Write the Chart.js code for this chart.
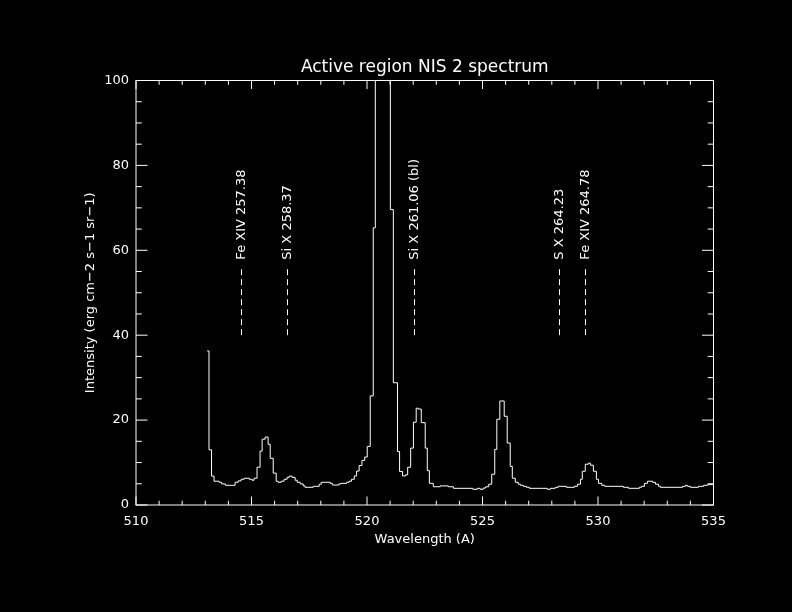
<!DOCTYPE html>
<html>
<head>
<meta charset="utf-8">
<script src="https://cdn.jsdelivr.net/npm/chart.js@4.4.1/dist/chart.umd.min.js"></script>
<style>
  html, body { margin: 0; padding: 0; background: #000; }
  #wrap { width: 792px; height: 612px; }
</style>
</head>
<body>
<div id="wrap"><canvas id="c" width="792" height="612"></canvas></div>
<script>
// ---- Data (wavelength in A, intensity) ----
// Each wavelength is the left edge of a histogram step; the value holds until the next edge.
const wavelengths = [
  513.08, 513.16, 513.27, 513.38, 513.60, 513.71, 513.87, 514.29, 514.42, 514.55,
  514.68, 514.90, 515.03, 515.11, 515.24, 515.37, 515.46, 515.59, 515.72, 515.81,
  515.94, 516.07, 516.15, 516.28, 516.41, 516.54, 516.63, 516.76, 516.89, 516.98,
  517.11, 517.24, 517.32, 517.67, 517.93, 518.02, 518.41, 518.50, 518.78, 518.87,
  519.12, 519.22, 519.33, 519.45, 519.55, 519.66, 519.78, 519.90, 520.01, 520.14,
  520.27, 520.36, 520.49, 520.62, 520.75, 520.88, 521.01, 521.14, 521.32, 521.41,
  521.54, 521.67, 521.76, 521.89, 522.01, 522.13, 522.22, 522.35, 522.52, 522.61,
  522.70, 522.87, 523.17, 523.52, 523.74, 524.58, 524.77, 524.90, 525.03, 525.14,
  525.27, 525.40, 525.53, 525.62, 525.75, 525.94, 526.07, 526.20, 526.29, 526.42,
  526.55, 526.64, 526.77, 526.90, 527.03, 527.81, 527.94, 528.15, 528.28, 528.63,
  528.98, 529.11, 529.24, 529.32, 529.45, 529.58, 529.67, 529.80, 529.93, 530.02,
  530.16, 530.29, 531.10, 531.32, 531.79, 531.88, 532.01, 532.14, 532.36, 532.49,
  532.62, 532.70, 533.66, 533.79, 533.87, 534.00, 534.35, 534.57, 534.74, 535.00
];
const intensities = [
  36.3, 13.0, 6.8, 5.6, 5.35, 4.96, 4.64, 5.35, 5.67, 6.06,
  6.3, 6.06, 5.83, 6.3, 8.9, 12.7, 15.5, 16.0, 14.3, 11.0,
  7.5, 5.6, 5.35, 5.6, 6.06, 6.5, 6.8, 6.5, 5.83, 5.35,
  4.96, 4.5, 4.17, 4.4, 4.9, 5.35, 5.1, 4.7, 4.96, 5.1,
  5.35, 5.6, 6.06, 6.85, 8.0, 9.3, 10.5, 11.3, 13.8, 25.7,
  65.3, 160, 260, 320, 250, 150, 69.6, 28.8, 12.6, 7.9,
  6.85, 7.1, 8.9, 13.4, 19.5, 22.8, 22.6, 19.4, 13.4, 8.1,
  5.1, 4.3, 4.5, 4.3, 3.93, 3.7, 3.93, 3.7, 4.0, 4.3,
  4.9, 7.25, 13.1, 20.2, 24.5, 20.9, 14.6, 9.1, 6.3, 5.35,
  4.9, 4.64, 4.4, 4.17, 3.93, 3.7, 3.93, 4.17, 4.4, 4.17,
  4.4, 4.9, 6.06, 7.95, 9.6, 9.85, 9.37, 7.95, 6.06, 5.1,
  4.64, 4.4, 4.17, 3.93, 4.17, 4.4, 5.1, 5.6, 5.35, 4.9,
  4.4, 4.17, 4.4, 4.64, 4.4, 4.17, 4.4, 4.64, 4.8, 4.8
];

// Line identifications (label text, marker wavelength on the plot axis)
const lineLabels = ['Fe XIV 257.38', 'Si X 258.37', 'Si X 261.06 (bl)', 'S X 264.23', 'Fe XIV 264.78'];
const lineWaves  = [514.567, 516.558, 522.056, 528.333, 529.459];
const markerLow  = 40;   // bottom of dashed marker (intensity units)
const markerHigh = 56;   // top of dashed marker
const labelBase  = 57.8; // where the rotated label starts

const xTicks = [510, 515, 520, 525, 530, 535];
const yTicks = [0, 20, 40, 60, 80, 100];

const titleText = 'Active region NIS 2 spectrum';
const xTitle = 'Wavelength (A)';
const yTitle = 'Intensity (erg cm\u22122 s\u22121 sr\u22121)';

// ---- build datasets ----
const spectrum = wavelengths.map((w, i) => ({ x: w, y: intensities[i] }));
const markerSets = lineWaves.map(w => ({
  data: [{ x: w, y: markerLow }, { x: w, y: markerHigh }],
  borderColor: '#fff', borderWidth: 1, borderDash: [6, 4],
  pointRadius: 0, stepped: false, tension: 0
}));

const FONT = "'DejaVu Sans', sans-serif";

const bgPlugin = {
  id: 'bg',
  beforeDraw(chart) {
    const ctx = chart.ctx;
    ctx.save();
    ctx.fillStyle = '#000';
    ctx.fillRect(0, 0, chart.width, chart.height);
    ctx.restore();
  }
};

const idlAxes = {
  id: 'idlAxes',
  afterDraw(chart) {
    const { ctx, chartArea: a, scales: { x, y } } = chart;
    ctx.save();
    ctx.strokeStyle = '#fff';
    ctx.lineWidth = 1;
    ctx.setLineDash([]);
    ctx.strokeRect(a.left, a.top, a.right - a.left, a.bottom - a.top);
    const xMaj = 8.5, xMin = 4.3, yMaj = 11.5, yMin = 5.8;
    ctx.beginPath();
    for (let v = xTicks[0]; v <= xTicks[xTicks.length - 1] + 1e-9; v += 1) {
      const px = x.getPixelForValue(v);
      const len = xTicks.includes(v) ? xMaj : xMin;
      ctx.moveTo(px, a.bottom); ctx.lineTo(px, a.bottom - len);
      ctx.moveTo(px, a.top); ctx.lineTo(px, a.top + len);
    }
    for (let v = yTicks[0]; v <= yTicks[yTicks.length - 1] + 1e-9; v += 5) {
      const py = y.getPixelForValue(v);
      const len = yTicks.includes(v) ? yMaj : yMin;
      ctx.moveTo(a.left, py); ctx.lineTo(a.left + len, py);
      ctx.moveTo(a.right, py); ctx.lineTo(a.right - len, py);
    }
    ctx.stroke();

    ctx.fillStyle = '#fff';
    // title, centred over the plot box
    ctx.font = '17px ' + FONT;
    ctx.textAlign = 'center';
    ctx.textBaseline = 'middle';
    ctx.fillText(titleText, (a.left + a.right) / 2, a.top - 13);

    // rotated line identification labels
    ctx.font = '13px ' + FONT;
    ctx.textAlign = 'left';
    ctx.textBaseline = 'middle';
    lineLabels.forEach((t, i) => {
      const px = x.getPixelForValue(lineWaves[i]);
      const py = y.getPixelForValue(labelBase);
      ctx.save();
      ctx.translate(px, py);
      ctx.rotate(-Math.PI / 2);
      ctx.fillText(t, 0, 0);
      ctx.restore();
    });
    ctx.restore();
  }
};

new Chart(document.getElementById('c'), {
  type: 'line',
  data: {
    datasets: [{
      data: spectrum,
      borderColor: '#fff',
      borderWidth: 1,
      pointRadius: 0,
      stepped: true,
      fill: false
    }].concat(markerSets)
  },
  options: {
    responsive: false,
    devicePixelRatio: 1,
    animation: false,
    events: [],
    layout: { padding: { left: 0, right: 78.5, top: 80.5, bottom: 0 } },
    plugins: {
      legend: { display: false },
      tooltip: { enabled: false },
      title: { display: false }
    },
    scales: {
      x: {
        type: 'linear',
        min: 510, max: 535,
        afterBuildTicks: s => { s.ticks = xTicks.map(v => ({ value: v })); },
        afterFit: s => { s.height = 107; },
        grid: { display: false, drawTicks: false },
        border: { display: false },
        ticks: { color: '#fff', font: { family: FONT, size: 13 }, padding: 9, maxRotation: 0 },
        title: {
          display: true, text: xTitle, color: '#fff',
          font: { family: FONT, size: 13, lineHeight: 1.2 },
          padding: { top: 0, bottom: 65 }
        }
      },
      y: {
        type: 'linear',
        min: 0, max: 100,
        afterBuildTicks: s => { s.ticks = yTicks.map(v => ({ value: v })); },
        afterFit: s => { s.width = 136; },
        grid: { display: false, drawTicks: false },
        border: { display: false },
        ticks: { color: '#fff', font: { family: FONT, size: 13 }, padding: 7 },
        title: {
          display: true, text: yTitle, color: '#fff',
          font: { family: FONT, size: 13, lineHeight: 1.2 },
          padding: { top: 83, bottom: 0 }
        }
      }
    }
  },
  plugins: [bgPlugin, idlAxes]
});
</script>
</body>
</html>
